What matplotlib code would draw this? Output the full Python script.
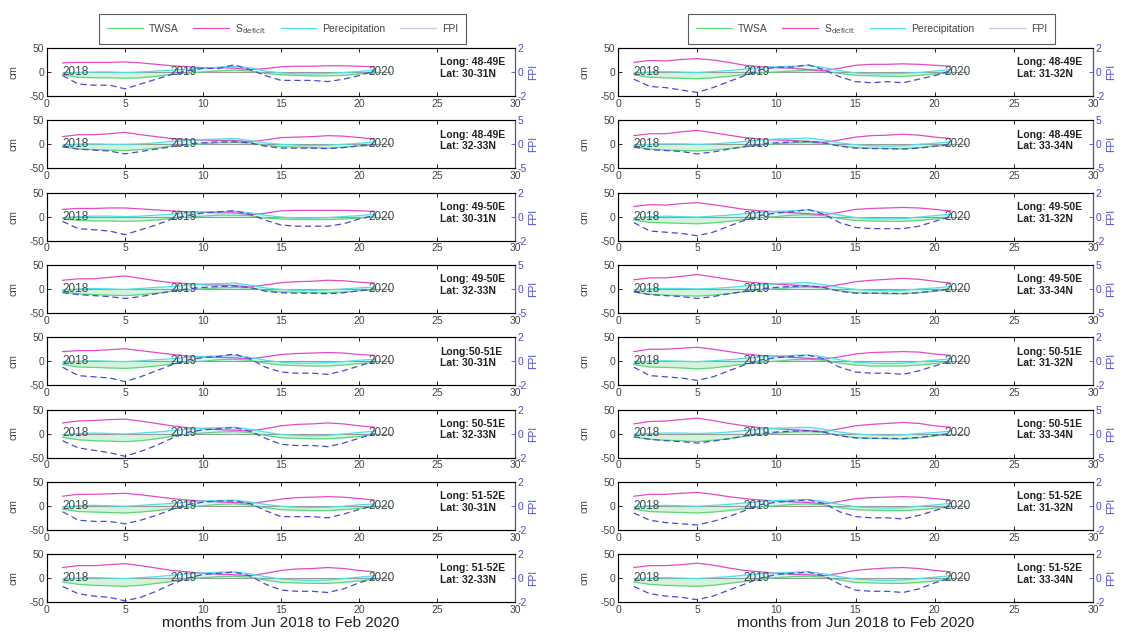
import numpy as np
import matplotlib.pyplot as plt
from matplotlib.lines import Line2D

plt.rcParams['font.family'] = ['Liberation Sans', 'DejaVu Sans']
plt.rcParams['axes.unicode_minus'] = False

months = np.arange(1, 22)
years = ['2018', '2019', '2020']
year_pos = [1.0, 7.9, 20.6]

# grid cells, top to bottom
loc_left = [('Long: 48-49E', 'Lat: 30-31N'), ('Long: 48-49E', 'Lat: 32-33N'),
            ('Long: 49-50E', 'Lat: 30-31N'), ('Long: 49-50E', 'Lat: 32-33N'),
            ('Long:50-51E', 'Lat: 30-31N'), ('Long: 50-51E', 'Lat: 32-33N'),
            ('Long: 51-52E', 'Lat: 30-31N'), ('Long: 51-52E', 'Lat: 32-33N')]
loc_right = [('Long: 48-49E', 'Lat: 31-32N'), ('Long: 48-49E', 'Lat: 33-34N'),
             ('Long: 49-50E', 'Lat: 31-32N'), ('Long: 49-50E', 'Lat: 33-34N'),
             ('Long: 50-51E', 'Lat: 31-32N'), ('Long: 50-51E', 'Lat: 33-34N'),
             ('Long: 51-52E', 'Lat: 31-32N'), ('Long: 51-52E', 'Lat: 33-34N')]
fpi_lim_left = [2, 5, 2, 5, 2, 2, 2, 2]
fpi_lim_right = [2, 5, 2, 5, 2, 5, 2, 2]

# S_deficit (cm)
sdef_left = [
    [19, 20, 20, 20, 21, 19, 16, 13, 11, 9, 9, 8, 5, 7, 11, 12, 12, 13, 13, 12, 11],
    [16, 20, 20, 22, 25, 20, 16, 12, 10, 9, 8, 8, 5, 9, 14, 15, 16, 18, 17, 14, 11],
    [15, 17, 17, 18, 18, 16, 14, 12, 10, 9, 8, 8, 4, 7, 12, 13, 13, 13, 13, 12, 11],
    [18, 21, 21, 24, 27, 22, 17, 13, 11, 9, 8, 7, 4, 8, 13, 15, 16, 18, 17, 14, 12],
    [20, 22, 22, 24, 26, 22, 18, 14, 11, 9, 8, 7, 5, 9, 14, 16, 17, 18, 17, 14, 12],
    [22, 26, 27, 29, 30, 26, 21, 16, 12, 10, 8, 7, 5, 10, 16, 19, 20, 22, 20, 16, 13],
    [20, 24, 24, 25, 26, 23, 19, 15, 12, 10, 8, 7, 5, 9, 14, 17, 18, 19, 18, 15, 12],
    [22, 26, 26, 28, 30, 26, 21, 16, 13, 10, 8, 7, 5, 10, 16, 19, 20, 22, 20, 16, 13],
]
sdef_right = [
    [20, 24, 23, 26, 28, 25, 20, 14, 11, 9, 8, 5, 3, 8, 14, 16, 16, 17, 16, 14, 12],
    [18, 22, 22, 26, 29, 24, 19, 14, 11, 9, 8, 6, 4, 9, 15, 18, 19, 21, 19, 15, 12],
    [21, 25, 24, 27, 29, 25, 20, 15, 12, 10, 8, 6, 4, 9, 15, 17, 18, 19, 18, 15, 12],
    [19, 23, 23, 26, 30, 25, 20, 15, 12, 10, 8, 6, 4, 9, 15, 18, 20, 22, 20, 16, 12],
    [20, 25, 25, 27, 29, 25, 20, 15, 12, 10, 8, 6, 4, 9, 15, 18, 19, 20, 19, 15, 12],
    [20, 25, 26, 29, 32, 27, 21, 16, 12, 10, 8, 6, 4, 10, 16, 19, 21, 23, 21, 16, 13],
    [20, 24, 24, 26, 28, 24, 19, 15, 12, 10, 8, 7, 4, 9, 15, 17, 18, 19, 18, 15, 12],
    [22, 26, 26, 28, 31, 27, 21, 16, 13, 10, 8, 7, 5, 10, 16, 19, 21, 22, 20, 16, 13],
]

# TWSA (cm)
twsa_left = [
    [-6, -11, -12, -12, -13, -12, -9, -5, -2, 0, 2, 4, 2, -3, -6, -7, -8, -8, -7, -4, -2],
    [-5, -10, -11, -12, -13, -11, -8, -4, -1, 1, 3, 4, 3, -2, -5, -6, -7, -8, -6, -4, -2],
    [-4, -8, -9, -9, -10, -9, -7, -4, -1, 1, 3, 3, 2, -3, -5, -6, -6, -6, -5, -3, -1],
    [-6, -10, -12, -13, -14, -12, -9, -5, -2, 0, 2, 3, 2, -3, -6, -7, -8, -8, -7, -4, -2],
    [-7, -12, -13, -14, -15, -13, -10, -6, -2, 0, 3, 4, 2, -4, -8, -9, -10, -10, -8, -5, -2],
    [-8, -13, -15, -16, -17, -15, -11, -6, -2, 1, 3, 4, 2, -4, -9, -10, -11, -11, -9, -6, -2],
    [-7, -12, -13, -14, -15, -13, -10, -6, -2, 0, 3, 4, 2, -4, -8, -9, -10, -10, -8, -5, -2],
    [-8, -13, -15, -16, -17, -15, -11, -7, -2, 1, 3, 4, 2, -4, -9, -10, -11, -11, -9, -6, -2],
]
twsa_right = [
    [-6, -11, -12, -13, -14, -12, -9, -5, -2, 0, 2, 4, 2, -3, -7, -8, -9, -9, -7, -4, -2],
    [-5, -10, -12, -13, -14, -12, -9, -5, -2, 1, 3, 4, 2, -3, -7, -8, -9, -9, -7, -4, -2],
    [-7, -12, -13, -14, -15, -13, -10, -6, -2, 0, 3, 4, 2, -4, -8, -9, -10, -10, -8, -5, -2],
    [-6, -11, -13, -14, -15, -13, -10, -6, -2, 0, 3, 4, 2, -4, -8, -9, -10, -10, -8, -5, -2],
    [-7, -12, -13, -14, -16, -14, -10, -6, -2, 0, 3, 4, 2, -4, -8, -10, -10, -10, -8, -5, -2],
    [-7, -12, -14, -15, -17, -14, -11, -6, -2, 1, 3, 4, 2, -4, -9, -10, -11, -11, -9, -5, -2],
    [-7, -12, -13, -14, -15, -13, -10, -6, -2, 0, 3, 4, 2, -4, -8, -9, -10, -10, -8, -5, -2],
    [-8, -13, -15, -16, -17, -15, -11, -7, -2, 1, 3, 4, 2, -4, -9, -10, -11, -11, -9, -6, -2],
]

# Precipitation (cm)
prec_left = [
    [-3, -1, 0, 0, -1, 0, 2, 4, 6, 8, 10, 12, 9, 2, -2, -4, -4, -3, -1, 1, 4],
    [-2, 0, 1, 0, 0, 1, 3, 6, 8, 10, 11, 12, 8, 3, 0, -2, -3, -2, 0, 2, 5],
    [-2, 0, 1, 1, 0, 1, 3, 5, 8, 10, 10, 11, 8, 3, -1, -3, -3, -2, 0, 2, 5],
    [-3, 0, 1, 0, -1, 1, 3, 5, 8, 10, 11, 12, 8, 2, -1, -3, -3, -2, 0, 2, 4],
    [-3, 0, 1, 0, -1, 1, 3, 5, 8, 10, 11, 12, 8, 2, -2, -4, -4, -3, -1, 2, 4],
    [-3, 0, 1, 0, -1, 1, 3, 6, 9, 11, 12, 13, 9, 3, -2, -4, -5, -4, -1, 2, 5],
    [-3, 0, 1, 0, -1, 1, 3, 5, 8, 10, 11, 12, 8, 3, -1, -3, -4, -3, -1, 2, 4],
    [-3, 0, 1, 0, -1, 1, 3, 6, 9, 11, 12, 13, 9, 3, -2, -4, -5, -4, -1, 2, 5],
]
prec_right = [
    [-3, 0, 1, 0, -1, 1, 3, 6, 9, 11, 12, 14, 9, 3, -2, -4, -4, -3, -1, 2, 5],
    [-2, 0, 1, 1, 0, 1, 3, 6, 9, 11, 12, 13, 9, 3, -1, -3, -4, -3, 0, 2, 5],
    [-3, 0, 1, 0, -1, 1, 3, 6, 9, 11, 12, 14, 9, 3, -2, -4, -5, -4, -1, 2, 5],
    [-2, 0, 1, 1, 0, 1, 3, 6, 9, 11, 12, 13, 9, 3, -1, -3, -4, -3, 0, 2, 5],
    [-3, 0, 1, 0, -1, 1, 3, 6, 9, 11, 12, 13, 9, 3, -2, -4, -5, -4, -1, 2, 5],
    [-2, 0, 1, 1, 0, 1, 3, 6, 9, 11, 12, 13, 9, 3, -1, -3, -4, -3, 0, 2, 5],
    [-3, 0, 1, 0, -1, 1, 3, 6, 9, 11, 12, 13, 9, 3, -2, -4, -5, -4, -1, 2, 5],
    [-3, 0, 1, 0, -1, 1, 3, 6, 9, 11, 12, 13, 9, 3, -2, -4, -5, -4, -1, 2, 5],
]

# FPI (right axis units)
fpi_left = [
    [-0.3, -1.0, -1.1, -1.1, -1.4, -1.0, -0.6, -0.2, 0.1, 0.3, 0.3, 0.6, 0.2, -0.3, -0.7, -0.7, -0.7, -0.8, -0.6, -0.3, 0.1],
    [-0.5, -1.0, -1.2, -1.4, -2.0, -1.5, -1.0, -0.5, 0.0, 0.3, 0.5, 0.5, 0.3, -0.4, -0.8, -0.8, -0.8, -0.9, -0.7, -0.3, 0.0],
    [-0.4, -1.0, -1.1, -1.2, -1.5, -1.1, -0.7, -0.2, 0.1, 0.3, 0.4, 0.5, 0.2, -0.3, -0.7, -0.8, -0.8, -0.8, -0.6, -0.2, 0.1],
    [-0.8, -1.2, -1.4, -1.6, -2.0, -1.6, -1.0, -0.5, 0.0, 0.3, 0.5, 0.6, 0.3, -0.5, -0.8, -0.9, -0.9, -1.0, -0.8, -0.4, 0.0],
    [-0.5, -1.2, -1.3, -1.4, -1.7, -1.3, -0.8, -0.3, 0.1, 0.3, 0.4, 0.6, 0.2, -0.5, -0.9, -1.0, -1.0, -1.1, -0.8, -0.4, 0.0],
    [-0.6, -1.2, -1.4, -1.6, -1.9, -1.5, -1.0, -0.4, 0.1, 0.3, 0.4, 0.5, 0.2, -0.4, -0.9, -1.0, -1.0, -1.1, -0.8, -0.4, 0.0],
    [-0.5, -1.2, -1.3, -1.3, -1.5, -1.2, -0.8, -0.3, 0.1, 0.3, 0.4, 0.4, 0.2, -0.4, -0.9, -0.9, -0.9, -1.0, -0.7, -0.3, 0.0],
    [-0.7, -1.3, -1.5, -1.6, -1.9, -1.6, -1.1, -0.5, 0.0, 0.3, 0.4, 0.5, 0.2, -0.5, -1.0, -1.1, -1.1, -1.2, -0.9, -0.4, 0.0],
]
fpi_right = [
    [-0.6, -1.2, -1.3, -1.5, -1.7, -1.3, -0.8, -0.3, 0.2, 0.4, 0.4, 0.6, 0.2, -0.4, -0.8, -0.9, -0.8, -0.9, -0.6, -0.3, 0.1],
    [-0.6, -1.1, -1.3, -1.5, -2.0, -1.6, -1.0, -0.5, 0.0, 0.3, 0.5, 0.6, 0.3, -0.4, -0.8, -0.9, -0.9, -1.0, -0.8, -0.4, 0.0],
    [-0.5, -1.2, -1.3, -1.4, -1.6, -1.3, -0.8, -0.3, 0.1, 0.3, 0.4, 0.6, 0.2, -0.5, -0.9, -1.0, -1.0, -1.0, -0.8, -0.4, 0.0],
    [-0.6, -1.2, -1.4, -1.6, -2.0, -1.6, -1.0, -0.5, 0.0, 0.3, 0.5, 0.6, 0.3, -0.5, -0.9, -0.9, -0.9, -1.0, -0.8, -0.4, 0.0],
    [-0.5, -1.2, -1.3, -1.4, -1.6, -1.3, -0.8, -0.3, 0.1, 0.3, 0.4, 0.5, 0.2, -0.5, -0.9, -1.0, -1.0, -1.1, -0.8, -0.4, 0.0],
    [-0.7, -1.2, -1.5, -1.7, -2.0, -1.6, -1.1, -0.5, 0.0, 0.3, 0.5, 0.6, 0.3, -0.5, -0.9, -1.0, -1.0, -1.1, -0.8, -0.4, 0.0],
    [-0.6, -1.2, -1.4, -1.5, -1.6, -1.3, -0.9, -0.4, 0.1, 0.3, 0.4, 0.5, 0.2, -0.5, -0.9, -1.0, -1.0, -1.1, -0.8, -0.4, 0.0],
    [-0.7, -1.3, -1.5, -1.6, -1.8, -1.5, -1.0, -0.5, 0.0, 0.3, 0.4, 0.5, 0.2, -0.5, -1.0, -1.1, -1.1, -1.2, -0.9, -0.4, 0.0],
]

c_twsa = '#5fd67a'
c_sdef = '#e24bc6'
c_prec = '#4fdfe6'
c_fpi = '#4a4ad0'
c_text = '#454545'

fig = plt.figure(figsize=(11.42, 6.37), dpi=100)
W, H = 1142.0, 637.0


def draw_panel(rect, twsa, sdef, prec, fpi, lim, loc):
    ax = fig.add_axes(rect)
    ax.fill_between(months, 0, twsa, color='#d3f4da', lw=0)
    ax.fill_between(months, 0, prec, color='#d4f7f8', lw=0, alpha=0.9)
    ax.plot([1, 22], [0, 0], color='#9a9a9a', lw=0.8, zorder=1)
    ax.plot(months, twsa, color=c_twsa, lw=0.9)
    ax.plot(months, sdef, color=c_sdef, lw=0.9)
    ax.plot(months, prec, color=c_prec, lw=0.9)
    for yr, xp in zip(years, year_pos):
        ax.text(xp, 0, yr, fontsize=8.5, color='#3a4a4a', va='center', ha='left', zorder=5)
    ax.text(25.2, 20, loc[0], fontsize=7.5, color='#222222', fontweight='bold', va='center')
    ax.text(25.2, -4, loc[1], fontsize=7.5, color='#222222', fontweight='bold', va='center')
    ax.set_xlim(0, 30)
    ax.set_ylim(-50, 50)
    ax.set_xticks(range(0, 31, 5))
    ax.set_yticks([-50, 0, 50])
    ax.tick_params(direction='in', length=3, labelsize=7.5, labelcolor=c_text,
                   top=True, pad=2, width=0.6)
    ax.set_ylabel('cm', fontsize=7.5, color=c_text, labelpad=8)
    for s in ax.spines.values():
        s.set_linewidth(0.8)
        s.set_color('#333333')

    ax2 = ax.twinx()
    ax2.plot(months, fpi, color=c_fpi, lw=0.9, ls=(0, (5, 3)))
    ax2.set_ylim(-lim, lim)
    ax2.set_yticks([-lim, 0, lim])
    ax2.tick_params(direction='in', length=3, labelsize=7.5, colors=c_fpi, pad=2, width=0.6)
    ax2.spines['right'].set_color(c_fpi)
    ax2.set_ylabel('FPI', fontsize=7.5, color=c_fpi, labelpad=1)
    return ax


cols = [
    (47, 515, 282.5, twsa_left, sdef_left, prec_left, fpi_left, fpi_lim_left, loc_left),
    (618, 1093, 871.5, twsa_right, sdef_right, prec_right, fpi_right, fpi_lim_right, loc_right),
]

for x0, x1, lx, tw, sd, pr, fp, lims, locs in cols:
    last = None
    for i in range(8):
        top = 48 + 72.3 * i
        rect = [x0 / W, 1 - (top + 48) / H, (x1 - x0) / W, 48 / H]
        last = draw_panel(rect, tw[i], sd[i], pr[i], fp[i], lims[i], locs[i])
    last.set_xlabel('months from Jun 2018 to Feb 2020', fontsize=11, color='#222222', labelpad=1)

    handles = [Line2D([], [], color=c_twsa, lw=0.9),
               Line2D([], [], color=c_sdef, lw=0.9),
               Line2D([], [], color=c_prec, lw=0.9),
               Line2D([], [], color='#c8c8e0', lw=0.9)]
    labels = ['TWSA', r'S$_{\mathrm{deficit}}$', 'Perecipitation', 'FPI']
    leg = fig.legend(handles, labels, loc='center', bbox_to_anchor=(lx / W, 1 - 29 / H),
                     ncol=4, fontsize=7.5, handlelength=3.4, columnspacing=1.4,
                     frameon=True, fancybox=False, edgecolor='#333333',
                     borderpad=0.8, handletextpad=0.6)
    leg.get_frame().set_linewidth(0.8)
    for t in leg.get_texts():
        t.set_color(c_text)

fig.savefig('out.png', dpi=100)
